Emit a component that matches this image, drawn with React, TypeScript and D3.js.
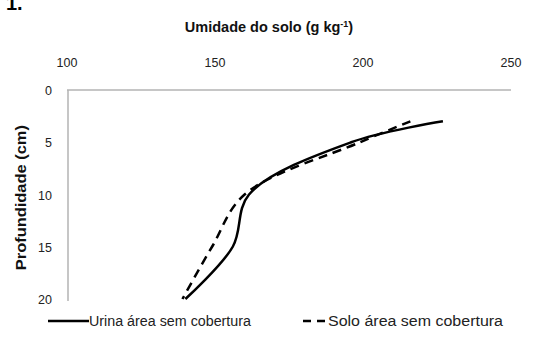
import React from "react";
import * as d3 from "d3";

const depths = [3, 5, 10, 15, 20];
const urina = [227, 196, 161.5, 156, 140];
const solo = [216, 199, 160, 149, 139];
const xTicks = [100, 150, 200, 250];
const yTicks = [0, 5, 10, 15, 20];
const seriesNames = ["Urina área sem cobertura", "Solo área sem cobertura"];

export default function App() {
  const W = 544, H = 345;
  const x = d3.scaleLinear().domain([100, 250]).range([67, 511]);
  const y = d3.scaleLinear().domain([0, 20]).range([90, 299]);
  const line = d3
    .line<[number, number]>()
    .x((d) => x(d[0]))
    .y((d) => y(d[1]))
    .curve(d3.curveCatmullRom.alpha(0.5));
  const uPts = depths.map((d, i) => [urina[i], d] as [number, number]);
  const sPts = depths.map((d, i) => [solo[i], d] as [number, number]);
  const font = "'Liberation Sans', Arial, sans-serif";
  return (
    <svg width={W} height={H} style={{ position: "absolute", left: 0, top: 0, background: "#fff" }}>
      <text x={6} y={10} fontFamily={font} fontWeight="bold" fontSize={20}>1.</text>
      <text x={269} y={32} textAnchor="middle" fontFamily={font} fontWeight="bold" fontSize={14.5} fill="#111">
        Umidade do solo (g kg<tspan dy={-5} fontSize={9}>-1</tspan><tspan dy={5}>)</tspan>
      </text>
      {xTicks.map((t) => (
        <text key={t} x={x(t)} y={67} textAnchor="middle" fontFamily={font} fontSize={12.5} fill="#222">{t}</text>
      ))}
      {yTicks.map((t) => (
        <text key={t} x={52} y={y(t) + 5} textAnchor="end" fontFamily={font} fontSize={12.5} fill="#222">{t}</text>
      ))}
      <text transform={`translate(26,${y(10.3)}) rotate(-90)`} textAnchor="middle" fontFamily={font} fontWeight="bold" fontSize={14} textLength={145} lengthAdjust="spacingAndGlyphs" fill="#111">
        Profundidade (cm)
      </text>
      <line x1={x(100)} x2={x(250)} y1={y(0)} y2={y(0)} stroke="#b3b3b3" strokeWidth={1.5} />
      <line x1={x(100) + 1} x2={x(100) + 1} y1={y(0)} y2={y(20) + 2} stroke="#b3b3b3" strokeWidth={1.5} />
      <path d={line(sPts) || ""} fill="none" stroke="#000" strokeWidth={2.5} strokeDasharray="9 6" />
      <path d={line(uPts) || ""} fill="none" stroke="#000" strokeWidth={2.5} />
      <line x1={48} x2={89} y1={321} y2={321} stroke="#000" strokeWidth={2.5} />
      <text x={89} y={326} fontFamily={font} fontSize={14} textLength={162} lengthAdjust="spacingAndGlyphs" fill="#222">{seriesNames[0]}</text>
      <line x1={303} x2={326} y1={321} y2={321} stroke="#000" strokeWidth={2.5} strokeDasharray="8 6" />
      <text x={328} y={326} fontFamily={font} fontSize={14} textLength={175} lengthAdjust="spacingAndGlyphs" fill="#222">{seriesNames[1]}</text>
    </svg>
  );
}
